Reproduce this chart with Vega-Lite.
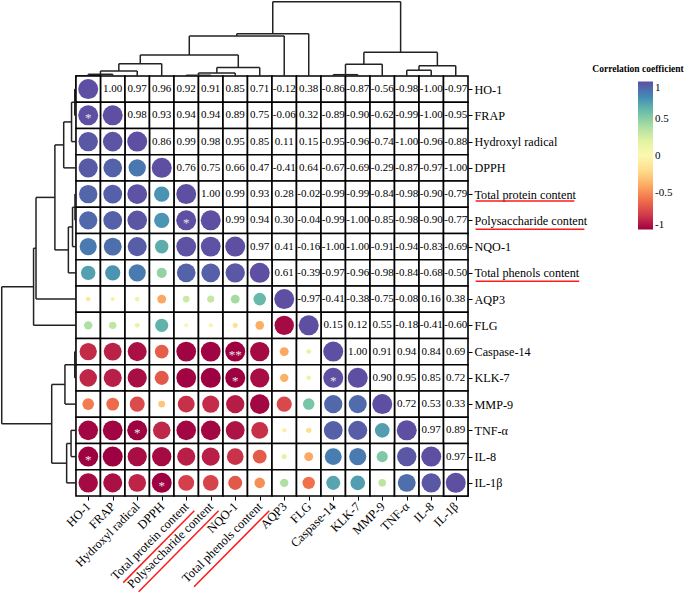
{
  "$schema": "https://vega.github.io/schema/vega-lite/v6.json",
  "width": 468,
  "height": 496,
  "padding": 0,
  "background": "white",
  "config": {
    "view": {"stroke": null},
    "font": "Liberation Serif",
    "axis": {"labelOverlap": false, "labelBound": false, "labelFlush": false},
    "legend": {
      "orient": "none",
      "legendX": 592,
      "legendY": 64,
      "gradientLength": 148,
      "gradientThickness": 15,
      "titleFont": "Liberation Serif",
      "titleFontSize": 9.5,
      "titleFontWeight": "bold",
      "titleColor": "black",
      "titleAlign": "center",
      "titleAnchor": "start",
      "titlePadding": 8,
      "titleLimit": 200,
      "labelFont": "Liberation Serif",
      "labelFontSize": 11,
      "labelColor": "black",
      "gradientStrokeWidth": 0
    }
  },
  "datasets": {
    "vars": [
      {"name": "HO-1", "i": 0}, {"name": "FRAP", "i": 1}, {"name": "Hydroxyl radical", "i": 2}, {"name": "DPPH", "i": 3},
      {"name": "Total protein content", "i": 4}, {"name": "Polysaccharide content", "i": 5}, {"name": "NQO-1", "i": 6},
      {"name": "Total phenols content", "i": 7}, {"name": "AQP3", "i": 8}, {"name": "FLG", "i": 9}, {"name": "Caspase-14", "i": 10},
      {"name": "KLK-7", "i": 11}, {"name": "MMP-9", "i": 12}, {"name": "TNF-α", "i": 13}, {"name": "IL-8", "i": 14}, {"name": "IL-1β", "i": 15}
    ],
    "pairs": [
      {"a": "HO-1", "b": "HO-1", "r": 1, "s": ""},
      {"a": "FRAP", "b": "FRAP", "r": 1, "s": ""},
      {"a": "Hydroxyl radical", "b": "Hydroxyl radical", "r": 1, "s": ""},
      {"a": "DPPH", "b": "DPPH", "r": 1, "s": ""},
      {"a": "Total protein content", "b": "Total protein content", "r": 1, "s": ""},
      {"a": "Polysaccharide content", "b": "Polysaccharide content", "r": 1, "s": ""},
      {"a": "NQO-1", "b": "NQO-1", "r": 1, "s": ""},
      {"a": "Total phenols content", "b": "Total phenols content", "r": 1, "s": ""},
      {"a": "AQP3", "b": "AQP3", "r": 1, "s": ""},
      {"a": "FLG", "b": "FLG", "r": 1, "s": ""},
      {"a": "Caspase-14", "b": "Caspase-14", "r": 1, "s": ""},
      {"a": "KLK-7", "b": "KLK-7", "r": 1, "s": ""},
      {"a": "MMP-9", "b": "MMP-9", "r": 1, "s": ""},
      {"a": "TNF-α", "b": "TNF-α", "r": 1, "s": ""},
      {"a": "IL-8", "b": "IL-8", "r": 1, "s": ""},
      {"a": "IL-1β", "b": "IL-1β", "r": 1, "s": ""},

      {"a": "HO-1", "b": "FRAP", "r": 1.00, "s": "*"},
      {"a": "HO-1", "b": "Hydroxyl radical", "r": 0.97, "s": ""},
      {"a": "HO-1", "b": "DPPH", "r": 0.96, "s": ""},
      {"a": "HO-1", "b": "Total protein content", "r": 0.92, "s": ""},
      {"a": "HO-1", "b": "Polysaccharide content", "r": 0.91, "s": ""},
      {"a": "HO-1", "b": "NQO-1", "r": 0.85, "s": ""},
      {"a": "HO-1", "b": "Total phenols content", "r": 0.71, "s": ""},
      {"a": "HO-1", "b": "AQP3", "r": -0.12, "s": ""},
      {"a": "HO-1", "b": "FLG", "r": 0.38, "s": ""},
      {"a": "HO-1", "b": "Caspase-14", "r": -0.86, "s": ""},
      {"a": "HO-1", "b": "KLK-7", "r": -0.87, "s": ""},
      {"a": "HO-1", "b": "MMP-9", "r": -0.56, "s": ""},
      {"a": "HO-1", "b": "TNF-α", "r": -0.98, "s": ""},
      {"a": "HO-1", "b": "IL-8", "r": -1.00, "s": "*"},
      {"a": "HO-1", "b": "IL-1β", "r": -0.97, "s": ""},

      {"a": "FRAP", "b": "Hydroxyl radical", "r": 0.98, "s": ""},
      {"a": "FRAP", "b": "DPPH", "r": 0.93, "s": ""},
      {"a": "FRAP", "b": "Total protein content", "r": 0.94, "s": ""},
      {"a": "FRAP", "b": "Polysaccharide content", "r": 0.94, "s": ""},
      {"a": "FRAP", "b": "NQO-1", "r": 0.89, "s": ""},
      {"a": "FRAP", "b": "Total phenols content", "r": 0.75, "s": ""},
      {"a": "FRAP", "b": "AQP3", "r": -0.06, "s": ""},
      {"a": "FRAP", "b": "FLG", "r": 0.32, "s": ""},
      {"a": "FRAP", "b": "Caspase-14", "r": -0.89, "s": ""},
      {"a": "FRAP", "b": "KLK-7", "r": -0.90, "s": ""},
      {"a": "FRAP", "b": "MMP-9", "r": -0.62, "s": ""},
      {"a": "FRAP", "b": "TNF-α", "r": -0.99, "s": ""},
      {"a": "FRAP", "b": "IL-8", "r": -1.00, "s": ""},
      {"a": "FRAP", "b": "IL-1β", "r": -0.95, "s": ""},

      {"a": "Hydroxyl radical", "b": "DPPH", "r": 0.86, "s": ""},
      {"a": "Hydroxyl radical", "b": "Total protein content", "r": 0.99, "s": ""},
      {"a": "Hydroxyl radical", "b": "Polysaccharide content", "r": 0.98, "s": ""},
      {"a": "Hydroxyl radical", "b": "NQO-1", "r": 0.95, "s": ""},
      {"a": "Hydroxyl radical", "b": "Total phenols content", "r": 0.85, "s": ""},
      {"a": "Hydroxyl radical", "b": "AQP3", "r": 0.11, "s": ""},
      {"a": "Hydroxyl radical", "b": "FLG", "r": 0.15, "s": ""},
      {"a": "Hydroxyl radical", "b": "Caspase-14", "r": -0.95, "s": ""},
      {"a": "Hydroxyl radical", "b": "KLK-7", "r": -0.96, "s": ""},
      {"a": "Hydroxyl radical", "b": "MMP-9", "r": -0.74, "s": ""},
      {"a": "Hydroxyl radical", "b": "TNF-α", "r": -1.00, "s": "*"},
      {"a": "Hydroxyl radical", "b": "IL-8", "r": -0.96, "s": ""},
      {"a": "Hydroxyl radical", "b": "IL-1β", "r": -0.88, "s": ""},

      {"a": "DPPH", "b": "Total protein content", "r": 0.76, "s": ""},
      {"a": "DPPH", "b": "Polysaccharide content", "r": 0.75, "s": ""},
      {"a": "DPPH", "b": "NQO-1", "r": 0.66, "s": ""},
      {"a": "DPPH", "b": "Total phenols content", "r": 0.47, "s": ""},
      {"a": "DPPH", "b": "AQP3", "r": -0.41, "s": ""},
      {"a": "DPPH", "b": "FLG", "r": 0.64, "s": ""},
      {"a": "DPPH", "b": "Caspase-14", "r": -0.67, "s": ""},
      {"a": "DPPH", "b": "KLK-7", "r": -0.69, "s": ""},
      {"a": "DPPH", "b": "MMP-9", "r": -0.29, "s": ""},
      {"a": "DPPH", "b": "TNF-α", "r": -0.87, "s": ""},
      {"a": "DPPH", "b": "IL-8", "r": -0.97, "s": ""},
      {"a": "DPPH", "b": "IL-1β", "r": -1.00, "s": "*"},

      {"a": "Total protein content", "b": "Polysaccharide content", "r": 1.00, "s": "*"},
      {"a": "Total protein content", "b": "NQO-1", "r": 0.99, "s": ""},
      {"a": "Total protein content", "b": "Total phenols content", "r": 0.93, "s": ""},
      {"a": "Total protein content", "b": "AQP3", "r": 0.28, "s": ""},
      {"a": "Total protein content", "b": "FLG", "r": -0.02, "s": ""},
      {"a": "Total protein content", "b": "Caspase-14", "r": -0.99, "s": ""},
      {"a": "Total protein content", "b": "KLK-7", "r": -0.99, "s": ""},
      {"a": "Total protein content", "b": "MMP-9", "r": -0.84, "s": ""},
      {"a": "Total protein content", "b": "TNF-α", "r": -0.98, "s": ""},
      {"a": "Total protein content", "b": "IL-8", "r": -0.90, "s": ""},
      {"a": "Total protein content", "b": "IL-1β", "r": -0.79, "s": ""},

      {"a": "Polysaccharide content", "b": "NQO-1", "r": 0.99, "s": ""},
      {"a": "Polysaccharide content", "b": "Total phenols content", "r": 0.94, "s": ""},
      {"a": "Polysaccharide content", "b": "AQP3", "r": 0.30, "s": ""},
      {"a": "Polysaccharide content", "b": "FLG", "r": -0.04, "s": ""},
      {"a": "Polysaccharide content", "b": "Caspase-14", "r": -0.99, "s": ""},
      {"a": "Polysaccharide content", "b": "KLK-7", "r": -1.00, "s": ""},
      {"a": "Polysaccharide content", "b": "MMP-9", "r": -0.85, "s": ""},
      {"a": "Polysaccharide content", "b": "TNF-α", "r": -0.98, "s": ""},
      {"a": "Polysaccharide content", "b": "IL-8", "r": -0.90, "s": ""},
      {"a": "Polysaccharide content", "b": "IL-1β", "r": -0.77, "s": ""},

      {"a": "NQO-1", "b": "Total phenols content", "r": 0.97, "s": ""},
      {"a": "NQO-1", "b": "AQP3", "r": 0.41, "s": ""},
      {"a": "NQO-1", "b": "FLG", "r": -0.16, "s": ""},
      {"a": "NQO-1", "b": "Caspase-14", "r": -1.00, "s": "**"},
      {"a": "NQO-1", "b": "KLK-7", "r": -1.00, "s": "*"},
      {"a": "NQO-1", "b": "MMP-9", "r": -0.91, "s": ""},
      {"a": "NQO-1", "b": "TNF-α", "r": -0.94, "s": ""},
      {"a": "NQO-1", "b": "IL-8", "r": -0.83, "s": ""},
      {"a": "NQO-1", "b": "IL-1β", "r": -0.69, "s": ""},

      {"a": "Total phenols content", "b": "AQP3", "r": 0.61, "s": ""},
      {"a": "Total phenols content", "b": "FLG", "r": -0.39, "s": ""},
      {"a": "Total phenols content", "b": "Caspase-14", "r": -0.97, "s": ""},
      {"a": "Total phenols content", "b": "KLK-7", "r": -0.96, "s": ""},
      {"a": "Total phenols content", "b": "MMP-9", "r": -0.98, "s": ""},
      {"a": "Total phenols content", "b": "TNF-α", "r": -0.84, "s": ""},
      {"a": "Total phenols content", "b": "IL-8", "r": -0.68, "s": ""},
      {"a": "Total phenols content", "b": "IL-1β", "r": -0.50, "s": ""},

      {"a": "AQP3", "b": "FLG", "r": -0.97, "s": ""},
      {"a": "AQP3", "b": "Caspase-14", "r": -0.41, "s": ""},
      {"a": "AQP3", "b": "KLK-7", "r": -0.38, "s": ""},
      {"a": "AQP3", "b": "MMP-9", "r": -0.75, "s": ""},
      {"a": "AQP3", "b": "TNF-α", "r": -0.08, "s": ""},
      {"a": "AQP3", "b": "IL-8", "r": 0.16, "s": ""},
      {"a": "AQP3", "b": "IL-1β", "r": 0.38, "s": ""},

      {"a": "FLG", "b": "Caspase-14", "r": 0.15, "s": ""},
      {"a": "FLG", "b": "KLK-7", "r": 0.12, "s": ""},
      {"a": "FLG", "b": "MMP-9", "r": 0.55, "s": ""},
      {"a": "FLG", "b": "TNF-α", "r": -0.18, "s": ""},
      {"a": "FLG", "b": "IL-8", "r": -0.41, "s": ""},
      {"a": "FLG", "b": "IL-1β", "r": -0.60, "s": ""},

      {"a": "Caspase-14", "b": "KLK-7", "r": 1.00, "s": "*"},
      {"a": "Caspase-14", "b": "MMP-9", "r": 0.91, "s": ""},
      {"a": "Caspase-14", "b": "TNF-α", "r": 0.94, "s": ""},
      {"a": "Caspase-14", "b": "IL-8", "r": 0.84, "s": ""},
      {"a": "Caspase-14", "b": "IL-1β", "r": 0.69, "s": ""},

      {"a": "KLK-7", "b": "MMP-9", "r": 0.90, "s": ""},
      {"a": "KLK-7", "b": "TNF-α", "r": 0.95, "s": ""},
      {"a": "KLK-7", "b": "IL-8", "r": 0.85, "s": ""},
      {"a": "KLK-7", "b": "IL-1β", "r": 0.72, "s": ""},

      {"a": "MMP-9", "b": "TNF-α", "r": 0.72, "s": ""},
      {"a": "MMP-9", "b": "IL-8", "r": 0.53, "s": ""},
      {"a": "MMP-9", "b": "IL-1β", "r": 0.33, "s": ""},

      {"a": "TNF-α", "b": "IL-8", "r": 0.97, "s": ""},
      {"a": "TNF-α", "b": "IL-1β", "r": 0.89, "s": ""},

      {"a": "IL-8", "b": "IL-1β", "r": 0.97, "s": ""}
    ],
    "topTree": [
      {"xl": 0.5, "xr": 1.5, "h": 0.065, "hl": 0, "hr": 0},
      {"xl": 1.0, "xr": 2.5, "h": 0.19, "hl": 0.065, "hr": 0},
      {"xl": 1.75, "xr": 3.5, "h": 0.47, "hl": 0.19, "hr": 0},
      {"xl": 4.5, "xr": 5.5, "h": 0.027, "hl": 0, "hr": 0},
      {"xl": 5.0, "xr": 6.5, "h": 0.114, "hl": 0.027, "hr": 0},
      {"xl": 5.75, "xr": 7.5, "h": 0.32, "hl": 0.114, "hr": 0},
      {"xl": 2.625, "xr": 6.625, "h": 0.80, "hl": 0.47, "hr": 0.32},
      {"xl": 4.625, "xr": 8.5, "h": 1.52, "hl": 0.80, "hr": 0},
      {"xl": 6.5625, "xr": 9.5, "h": 1.61, "hl": 1.52, "hr": 0},
      {"xl": 10.5, "xr": 11.5, "h": 0.05, "hl": 0, "hr": 0},
      {"xl": 11.0, "xr": 12.5, "h": 0.45, "hl": 0.05, "hr": 0},
      {"xl": 13.5, "xr": 14.5, "h": 0.22, "hl": 0, "hr": 0},
      {"xl": 14.0, "xr": 15.5, "h": 0.39, "hl": 0.22, "hr": 0},
      {"xl": 11.75, "xr": 14.75, "h": 0.90, "hl": 0.45, "hr": 0.39},
      {"xl": 8.03125, "xr": 13.25, "h": 2.83, "hl": 1.61, "hr": 0.90}
    ],
    "leftTree": [
      {"yt": 0.5, "yb": 1.5, "h": 0.05, "ht": 0, "hb": 0},
      {"yt": 1.0, "yb": 2.5, "h": 0.18, "ht": 0.05, "hb": 0},
      {"yt": 1.75, "yb": 3.5, "h": 0.50, "ht": 0.18, "hb": 0},
      {"yt": 4.5, "yb": 5.5, "h": 0.04, "ht": 0, "hb": 0},
      {"yt": 5.0, "yb": 6.5, "h": 0.14, "ht": 0.04, "hb": 0},
      {"yt": 5.75, "yb": 7.5, "h": 0.31, "ht": 0.14, "hb": 0},
      {"yt": 2.625, "yb": 6.625, "h": 0.86, "ht": 0.50, "hb": 0.31},
      {"yt": 4.625, "yb": 8.5, "h": 1.63, "ht": 0.86, "hb": 0},
      {"yt": 6.5625, "yb": 9.5, "h": 1.73, "ht": 1.63, "hb": 0},
      {"yt": 10.5, "yb": 11.5, "h": 0.05, "ht": 0, "hb": 0},
      {"yt": 11.0, "yb": 12.5, "h": 0.45, "ht": 0.05, "hb": 0},
      {"yt": 13.5, "yb": 14.5, "h": 0.20, "ht": 0, "hb": 0},
      {"yt": 14.0, "yb": 15.5, "h": 0.38, "ht": 0.20, "hb": 0},
      {"yt": 11.75, "yb": 14.75, "h": 0.99, "ht": 0.45, "hb": 0.38},
      {"yt": 8.03125, "yb": 13.25, "h": 3.03, "ht": 1.73, "hb": 0.99}
    ],
    "underlines": [
      {"label": "Total protein content", "x": 16.31, "x2": 20.34, "y": 4.76, "y2": 4.76},
      {"label": "Polysaccharide content", "x": 16.31, "x2": 20.75, "y": 5.84, "y2": 5.84},
      {"label": "Total phenols content", "x": 16.31, "x2": 20.54, "y": 7.82, "y2": 7.82},
      {"label": "Total protein content", "x": 4.83, "x2": 1.93, "y": 16.56, "y2": 19.30},
      {"label": "Polysaccharide content", "x": 5.82, "x2": 2.56, "y": 16.56, "y2": 19.65},
      {"label": "Total phenols content", "x": 7.89, "x2": 4.82, "y": 16.56, "y2": 19.46}
    ]
  },
  "layer": [
    {
      "data": {"name": "pairs"},
      "transform": [
        {"lookup": "a", "from": {"data": {"name": "vars"}, "key": "name", "fields": ["i"]}, "as": ["ia"]},
        {"lookup": "b", "from": {"data": {"name": "vars"}, "key": "name", "fields": ["i"]}, "as": ["ib"]},
        {"calculate": "datum.ia + 1", "as": "ia1"},
        {"calculate": "datum.ib + 1", "as": "ib1"},
        {"calculate": "datum.ia + 0.5", "as": "ca"},
        {"calculate": "datum.ib + 0.5", "as": "cb"},
        {"calculate": "abs(datum.r)", "as": "absr"},
        {"calculate": "replace(format(datum.r, '.2f'), '\u2212', '-')", "as": "lab"}
      ],
      "layer": [
        {
          "mark": {"type": "rect", "fill": "white", "stroke": "black", "strokeWidth": 1.6},
          "encoding": {
            "x": {"field": "ib", "type": "quantitative", "scale": {"domain": [-3.1, 16], "nice": false, "zero": false},
                  "axis": {"orient": "bottom", "title": null, "values": [0.5,1.5,2.5,3.5,4.5,5.5,6.5,7.5,8.5,9.5,10.5,11.5,12.5,13.5,14.5,15.5], "tickCount": 40,
                           "labelExpr": "['HO-1','FRAP','Hydroxyl radical','DPPH','Total protein content','Polysaccharide content','NQO-1','Total phenols content','AQP3','FLG','Caspase-14','KLK-7','MMP-9','TNF-α','IL-8','IL-1β'][floor(datum.value)]",
                           "labelAngle": -45, "labelAlign": "right", "labelBaseline": "middle", "labelFont": "Liberation Serif", "labelFontSize": 12.5, "labelColor": "black",
                           "domain": false, "grid": false, "ticks": true, "tickSize": 4, "tickColor": "black", "labelPadding": 4, "labelOverlap": false, "labelBound": false, "labelFlush": false}},
            "x2": {"field": "ib1"},
            "y": {"field": "ia", "type": "quantitative", "scale": {"domain": [-2.895, 16], "nice": false, "zero": false, "reverse": true},
                  "axis": {"orient": "right", "title": null, "values": [0.5,1.5,2.5,3.5,4.5,5.5,6.5,7.5,8.5,9.5,10.5,11.5,12.5,13.5,14.5,15.5], "tickCount": 40,
                           "labelExpr": "['HO-1','FRAP','Hydroxyl radical','DPPH','Total protein content','Polysaccharide content','NQO-1','Total phenols content','AQP3','FLG','Caspase-14','KLK-7','MMP-9','TNF-α','IL-8','IL-1β'][floor(datum.value)]",
                           "labelFont": "Liberation Serif", "labelFontSize": 12.2, "labelColor": "black",
                           "domain": false, "grid": false, "ticks": true, "tickSize": 4, "tickColor": "black", "labelPadding": 2, "labelOverlap": false, "labelBound": false, "labelFlush": false}},
            "y2": {"field": "ia1"}
          }
        },
        {
          "mark": {"type": "rect", "fill": "white", "stroke": "black", "strokeWidth": 1.6},
          "encoding": {
            "x": {"field": "ia", "type": "quantitative"},
            "x2": {"field": "ia1"},
            "y": {"field": "ib", "type": "quantitative"},
            "y2": {"field": "ib1"}
          }
        },
        {
          "mark": {"type": "point", "shape": "circle", "filled": true, "opacity": 1},
          "encoding": {
            "x": {"field": "ca", "type": "quantitative"},
            "y": {"field": "cb", "type": "quantitative"},
            "size": {"field": "absr", "type": "quantitative", "scale": {"type": "pow", "exponent": 2, "domain": [0, 1], "range": [16, 400]}, "legend": null},
            "color": {"field": "r", "type": "quantitative", "title": "Correlation coefficient",
                      "scale": {"scheme": "spectral", "domain": [-1, 1]},
                      "legend": {"values": [-1, -0.5, 0, 0.5, 1], "tickCount": 10, "labelExpr": "replace(format(datum.value, '~g'), '\u2212', '-')"}}
          }
        },
        {
          "transform": [{"filter": "datum.s != ''"}],
          "mark": {"type": "text", "color": "#e6e6e6", "fontSize": 13, "baseline": "middle", "dy": 3},
          "encoding": {
            "x": {"field": "ca", "type": "quantitative"},
            "y": {"field": "cb", "type": "quantitative"},
            "text": {"field": "s"}
          }
        },
        {
          "transform": [{"filter": "datum.a != datum.b"}],
          "mark": {"type": "text", "color": "black", "fontSize": 11, "font": "Liberation Serif", "baseline": "middle"},
          "encoding": {
            "x": {"field": "cb", "type": "quantitative"},
            "y": {"field": "ca", "type": "quantitative"},
            "text": {"field": "lab"}
          }
        }
      ]
    },
    {
      "data": {"name": "topTree"},
      "transform": [
        {"calculate": "-datum.h", "as": "yh"},
        {"calculate": "-datum.hl", "as": "yl"},
        {"calculate": "-datum.hr", "as": "yr"}
      ],
      "layer": [
        {"mark": {"type": "rule", "color": "#222", "strokeWidth": 1.5},
         "encoding": {"x": {"field": "xl", "type": "quantitative"}, "x2": {"field": "xr"}, "y": {"field": "yh", "type": "quantitative"}}},
        {"mark": {"type": "rule", "color": "#222", "strokeWidth": 1.5},
         "encoding": {"x": {"field": "xl", "type": "quantitative"}, "y": {"field": "yl", "type": "quantitative"}, "y2": {"field": "yh"}}},
        {"mark": {"type": "rule", "color": "#222", "strokeWidth": 1.5},
         "encoding": {"x": {"field": "xr", "type": "quantitative"}, "y": {"field": "yr", "type": "quantitative"}, "y2": {"field": "yh"}}}
      ]
    },
    {
      "data": {"name": "leftTree"},
      "transform": [
        {"calculate": "-datum.h", "as": "xh"},
        {"calculate": "-datum.ht", "as": "xt"},
        {"calculate": "-datum.hb", "as": "xb"}
      ],
      "layer": [
        {"mark": {"type": "rule", "color": "#222", "strokeWidth": 1.5},
         "encoding": {"y": {"field": "yt", "type": "quantitative"}, "y2": {"field": "yb"}, "x": {"field": "xh", "type": "quantitative"}}},
        {"mark": {"type": "rule", "color": "#222", "strokeWidth": 1.5},
         "encoding": {"y": {"field": "yt", "type": "quantitative"}, "x": {"field": "xt", "type": "quantitative"}, "x2": {"field": "xh"}}},
        {"mark": {"type": "rule", "color": "#222", "strokeWidth": 1.5},
         "encoding": {"y": {"field": "yb", "type": "quantitative"}, "x": {"field": "xb", "type": "quantitative"}, "x2": {"field": "xh"}}}
      ]
    },
    {
      "data": {"name": "underlines"},
      "mark": {"type": "rule", "color": "#ff1a1a", "strokeWidth": 1.5},
      "encoding": {
        "x": {"field": "x", "type": "quantitative"},
        "x2": {"field": "x2"},
        "y": {"field": "y", "type": "quantitative"},
        "y2": {"field": "y2"}
      }
    }
  ]
}
